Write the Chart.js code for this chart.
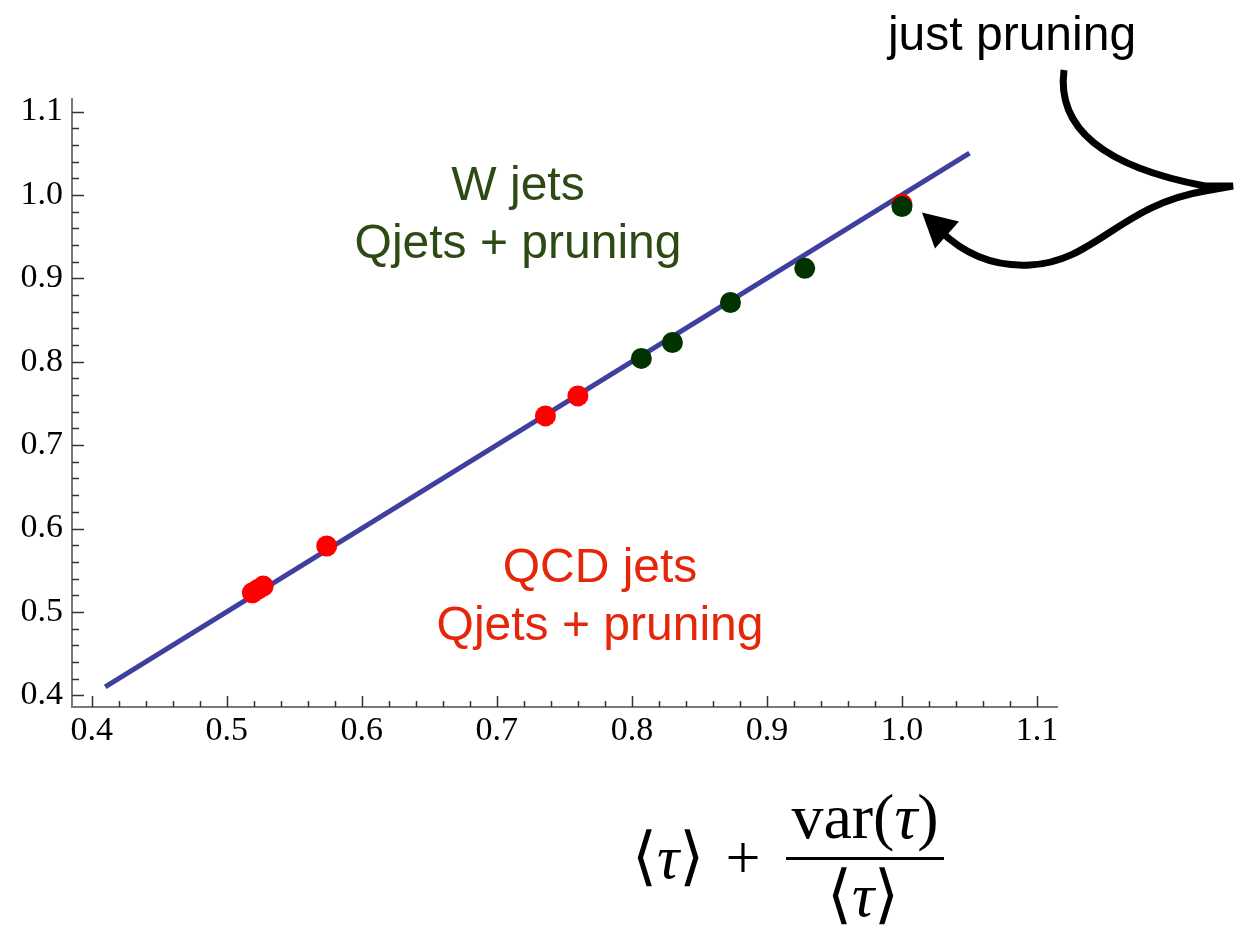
<!DOCTYPE html>
<html>
<head>
<meta charset="utf-8">
<script src="https://cdn.jsdelivr.net/npm/chart.js@4.4.1/dist/chart.umd.min.js"></script>
<style>
  body { margin: 0; background: #fff; }
  #wrap { width: 1243px; height: 925px; }
</style>
</head>
<body>
<div id="wrap"><canvas id="chart" width="1243" height="925"></canvas></div>
<script>
// values
const xTicks = [0.4, 0.5, 0.6, 0.7, 0.8, 0.9, 1.0, 1.1];
const yTicks = [0.4, 0.5, 0.6, 0.7, 0.8, 0.9, 1.0, 1.1];

const qcdX = [0.519, 0.523, 0.527, 0.574, 0.736, 0.760, 1.000];
const qcdY = [0.523, 0.527, 0.531, 0.579, 0.735, 0.759, 0.989];

const wX = [0.807, 0.830, 0.873, 0.928, 1.000];
const wY = [0.804, 0.823, 0.871, 0.912, 0.986];

const diagX = [0.41, 1.05];
const diagY = [0.41, 1.05];

const pts = (xs, ys) => xs.map((x, i) => ({ x: x, y: ys[i] }));

// inward ticks like the original (major + 4 minor)
const tickPlugin = {
    id: 'innerTicks',
    afterDraw(chart) {
        const ctx = chart.ctx;
        const xs = chart.scales.x, ys = chart.scales.y;
        const area = chart.chartArea;
        ctx.save();
        ctx.strokeStyle = '#333';
        ctx.lineWidth = 1.5;
        for (let i = 0; i <= 35; i++) {
            const v = 0.4 + i * 0.02;
            const major = i % 5 === 0;
            const px = Math.round(xs.getPixelForValue(v)) + 0.5;
            ctx.beginPath();
            ctx.moveTo(px, area.bottom);
            ctx.lineTo(px, area.bottom - (major ? 11 : 6));
            ctx.stroke();
            const py = Math.round(ys.getPixelForValue(v)) + 0.5;
            ctx.beginPath();
            ctx.moveTo(area.left, py);
            ctx.lineTo(area.left + (major ? 12 : 7), py);
            ctx.stroke();
        }
        ctx.restore();
    }
};

const serif = '"Liberation Serif", "DejaVu Serif", serif';

// draws a run of [text, italic, size] pieces, returns the width
function drawRun(ctx, parts, x, y, measureOnly) {
    let w = 0;
    parts.forEach(p => {
        ctx.font = (p[1] ? 'italic ' : '') + p[2] + 'px ' + serif;
        if (!measureOnly) ctx.fillText(p[0], x + w, y);
        w += ctx.measureText(p[0]).width;
    });
    return w;
}

// text labels, axis formula and the curly arrow
const notePlugin = {
    id: 'notes',
    afterDraw(chart) {
        const ctx = chart.ctx;
        ctx.save();
        ctx.textAlign = 'center';
        ctx.textBaseline = 'alphabetic';

        ctx.font = '48px "Liberation Sans", Arial, sans-serif';
        ctx.fillStyle = '#2d4a14';
        ctx.fillText('W jets', 518, 200);
        ctx.fillText('Qjets + pruning', 518, 258);

        ctx.fillStyle = '#e5260b';
        ctx.fillText('QCD jets', 600, 582);
        ctx.fillText('Qjets + pruning', 600, 640);

        ctx.fillStyle = '#000';
        ctx.fillText('just pruning', 1012, 50);

        // x axis formula
        ctx.textAlign = 'left';
        ctx.fillStyle = '#000';
        const ang = [['\u27E8', false, 64], ['\u03C4', true, 62], ['\u27E9', false, 64]];
        drawRun(ctx, ang, 632, 878);
        ctx.font = '62px ' + serif;
        ctx.textAlign = 'center';
        ctx.fillText('+', 743, 878);
        ctx.textAlign = 'left';

        ctx.fillRect(786, 857, 158, 3);
        const num = [['var(', false, 64], ['\u03C4', true, 64], [')', false, 64]];
        let w = drawRun(ctx, num, 0, 0, true);
        drawRun(ctx, num, 865 - w / 2, 838);
        w = drawRun(ctx, ang, 0, 0, true);
        drawRun(ctx, ang, 863 - w / 2, 916);

        // curly arrow pointing at the "just pruning" point
        const tipX = chart.scales.x.getPixelForValue(wX[4]) + 20;
        const tipY = chart.scales.y.getPixelForValue(wY[4]) + 6;
        ctx.strokeStyle = '#000';
        ctx.lineWidth = 7;
        ctx.lineCap = 'butt';
        ctx.lineJoin = 'miter';
        ctx.beginPath();
        ctx.moveTo(1064, 70);
        ctx.bezierCurveTo(1056, 132, 1110, 168, 1205, 186);
        ctx.lineTo(1233, 186);
        ctx.lineTo(1205, 191);
        ctx.bezierCurveTo(1120, 205, 1095, 262, 1030, 265);
        ctx.bezierCurveTo(995, 267, 965, 255, tipX + 18, tipY + 18);
        ctx.stroke();
        ctx.fillStyle = '#000';
        ctx.beginPath();
        ctx.moveTo(tipX, tipY);
        ctx.lineTo(tipX + 37, tipY + 9);
        ctx.lineTo(tipX + 13, tipY + 36);
        ctx.closePath();
        ctx.fill();
        ctx.restore();
    }
};

new Chart(document.getElementById('chart'), {
    type: 'scatter',
    data: {
        datasets: [
            {
                label: 'W jets',
                data: pts(wX, wY),
                backgroundColor: '#013301',
                pointRadius: 10.5,
                pointBorderWidth: 0,
                order: 0
            },
            {
                label: 'QCD jets',
                data: pts(qcdX, qcdY),
                backgroundColor: '#ff0000',
                pointRadius: 10.5,
                pointBorderWidth: 0,
                order: 1
            },
            {
                type: 'line',
                label: 'y = x',
                data: pts(diagX, diagY),
                borderColor: '#3f3f9f',
                borderWidth: 5,
                pointRadius: 0,
                fill: false,
                order: 2
            }
        ]
    },
    options: {
        responsive: false,
        animation: false,
        layout: { padding: { top: 99, right: 186, left: 0, bottom: 0 } },
        plugins: { legend: { display: false }, tooltip: { enabled: false } },
        scales: {
            x: {
                type: 'linear',
                min: 0.3854,
                max: 1.1148,
                afterBuildTicks: s => { s.ticks = xTicks.map(v => ({ value: v })); },
                afterFit: s => { s.height = 218; },
                grid: { display: false, tickLength: 0 },
                border: { display: true, color: '#7a7a7a', width: 2 },
                ticks: {
                    padding: 4,
                    color: '#000',
                    font: { family: '"Liberation Serif", serif', size: 34 },
                    callback: v => v.toFixed(1)
                }
            },
            y: {
                type: 'linear',
                min: 0.386,
                max: 1.115,
                afterBuildTicks: s => { s.ticks = yTicks.map(v => ({ value: v })); },
                afterFit: s => { s.width = 72; },
                grid: { display: false, tickLength: 0 },
                border: { display: true, color: '#7a7a7a', width: 2 },
                ticks: {
                    padding: 9,
                    color: '#000',
                    font: { family: '"Liberation Serif", serif', size: 34 },
                    callback: v => v.toFixed(1)
                }
            }
        }
    },
    plugins: [tickPlugin, notePlugin]
});
</script>
</body>
</html>
